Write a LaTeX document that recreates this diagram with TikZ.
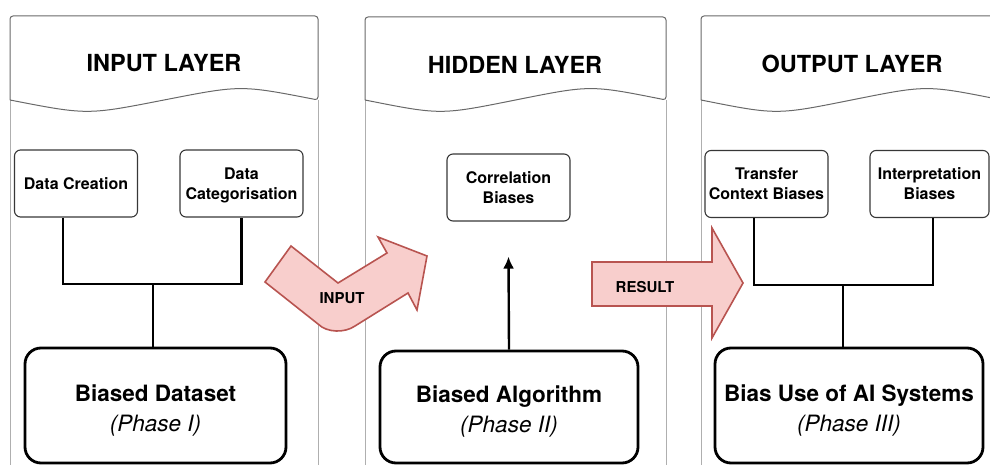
\documentclass[tikz,border=0pt]{standalone}
\usepackage{fontspec}
\setmainfont{TeX Gyre Heros}
\usetikzlibrary{arrows.meta,positioning,calc}
\definecolor{panelGray}{RGB}{105,105,105}
\definecolor{sideGray}{RGB}{175,175,175}
\definecolor{boxGray}{RGB}{55,55,55}
\definecolor{arrowRed}{RGB}{184,84,80}
\definecolor{arrowPink}{RGB}{248,206,204}
\tikzset{
  layertitle/.style={font=\fontsize{23.5}{27}\selectfont\bfseries},
  smallbox/.style={rounded corners=6pt, draw=boxGray, line width=1.1pt, align=center,
              minimum width=123pt, minimum height=67pt, inner sep=2pt, text depth=0pt,
              font=\fontsize{16}{20}\selectfont\bfseries},
  phasebox/.style={rounded corners=16pt, draw=black, line width=2.8pt, align=center,
              minimum height=115pt, inner sep=2pt, text height=56.5pt,
              font=\fontsize{22.5}{30}\selectfont},
  link/.style={draw=black, line width=2.4pt},
  arrow/.style={-{Latex[length=12pt,width=11pt]}, line width=2.4pt, draw=black},
  blockarrow/.style={draw=arrowRed, fill=arrowPink, line width=1.6pt},
  arrowlabel/.style={font=\fontsize{15}{18}\selectfont\bfseries}
}

\begin{document}
\begin{tikzpicture}[x=1pt, y=-1pt]
\useasboundingbox (0,0) rectangle (990,465);
\foreach \l/\r/\t in {10/318/16, 365/666/17, 701/1002/16}{
  \draw[sideGray, line width=1pt] (\l,100) -- (\l,470) (\r,100) -- (\r,470);
  \draw[panelGray, line width=1pt, rounded corners=3pt] (\l,100) -- (\l,\t) -- (\r,\t) -- (\r,100)
    .. controls ({\l+0.75*(\r-\l)},85) .. ({(\l+\r)/2},100)
    .. controls ({\l+0.25*(\r-\l)},115) .. (\l,100);
}
\node[layertitle] (tin) at (164,63) {INPUT LAYER};
\node[layertitle] (thid) at (515,65) {HIDDEN LAYER};
\node[layertitle] (tout) at (852,64) {OUTPUT LAYER};

\node[smallbox] (dc) at (76,183.5) {Data Creation};
\node[smallbox] (dcat) at (241.5,183.5) {Data\\Categorisation};
\node[smallbox] (cb) at (508.5,187.5) {Correlation\\Biases};
\node[smallbox] (tc) at (766.5,184) {Transfer\\Context Biases};
\node[smallbox, minimum width=119pt] (ib) at (929.5,184) {Interpretation\\Biases};

\node[phasebox, minimum width=261pt] (bd) at (155.5,405.5) {\textbf{Biased Dataset}\\\textit{(Phase I)}};
\node[phasebox, minimum width=258pt, minimum height=112pt] (ba) at (509,407) {\textbf{Biased Algorithm}\\\textit{(Phase II)}};
\node[phasebox, minimum width=268pt] (bu) at (849,405.5) {\textbf{Bias Use of AI Systems}\\\textit{(Phase III)}};

\coordinate (jin) at (153,284);
\draw[link] ([xshift=-13pt]dc.south) |- (jin) -| (dcat.south);
\draw[link] (jin) -- (jin |- bd.north);
\draw[arrow] (ba.north) -- ([yshift=-35pt]cb.south);
\coordinate (jout) at (843,285);
\draw[link] ([xshift=-12.5pt]tc.south) |- (jout) -| ([xshift=3.5pt]ib.south);
\draw[link] (jout) -- (jout |- bu.north);

\draw[blockarrow] (265,282) -- (291,246) -- (338,283) -- (387,253) -- (378,237) -- (427,256)
  -- (417,310) -- (408,293) -- (355,326) .. controls (345,333) and (327,333) .. (318,324) -- cycle;
\node[arrowlabel] (inlbl) at (342,298) {INPUT};
\draw[blockarrow] (592,262) -- (712,262) -- (712,228) -- (743,283) -- (712,338) -- (712,306)
  -- (592,306) -- cycle;
\node[arrowlabel] (reslbl) at (645,287) {RESULT};
\end{tikzpicture}
\end{document}
